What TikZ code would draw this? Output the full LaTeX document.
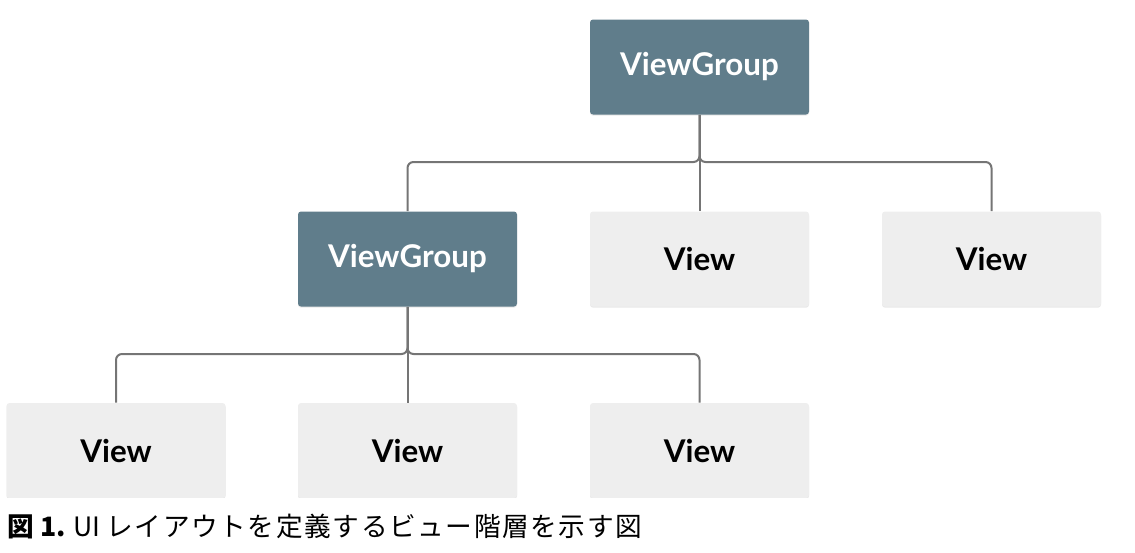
\documentclass[tikz,border=0pt]{standalone}
\usepackage{fontspec}
\usepackage{tikz}
\usetikzlibrary{shadows}
\newfontfamily\lblfont{Lato}
\newfontfamily\capfont{Noto Sans CJK JP}
\newfontfamily\capwide{Noto Sans CJK JP}[LetterSpace=6]
\definecolor{groupblue}{RGB}{96,125,139}
\definecolor{viewgray}{RGB}{238,238,238}
\definecolor{linegray}{RGB}{117,117,117}
\tikzset{
  box/.style={rectangle, rounded corners=2.25pt, minimum width=164.25pt, minimum height=71.25pt, inner sep=0pt,
    font=\lblfont\bfseries\fontsize{23.5}{27}\selectfont, drop shadow={opacity=0.18, shadow xshift=0pt, shadow yshift=-0.9pt}},
  groupbox/.style={box, fill=groupblue, text=white},
  viewbox/.style={box, fill=viewgray, text=black},
  link/.style={draw=linegray, line width=1.5pt, rounded corners=4.5pt}
}
\begin{document}
\begin{tikzpicture}[x=0.75pt,y=0.75pt,yscale=-1,xscale=1]
\useasboundingbox (0,0) rectangle (1135,553);
% Top ViewGroup
\node[groupbox] (root) at (699.5,67) {ViewGroup};
% Second row
\node[groupbox] (group) at (407.5,259) {ViewGroup};
\node[viewbox] (viewa) at (699.5,259) {View};
\node[viewbox] (viewb) at (991.5,259) {View};
% Third row
\node[viewbox] (viewc) at (116,450.5) {View};
\node[viewbox] (viewd) at (407.5,450.5) {View};
\node[viewbox] (viewe) at (699.5,450.5) {View};
% Fork points
\coordinate (forka) at (699.5,162);
\coordinate (forkb) at (407.5,354);
% Connectors from top ViewGroup
\draw[link] (root.south) -- (viewa.north);
\draw[link] (group.north) |- (forka) -- (root.south);
\draw[link] (viewb.north) |- (forka) -- (root.south);
% Connectors from second ViewGroup
\draw[link] (group.south) -- (viewd.north);
\draw[link] (viewc.north) |- (forkb) -- (group.south);
\draw[link] (viewe.north) |- (forkb) -- (group.south);
% Caption
\fill[white] (0,498) rectangle (1135,553);
\node[anchor=base west, inner sep=0pt, font=\capfont\fontsize{20}{24}\selectfont] (caption) at (7,536)
  {{\bfseries 図 1.} UI {\capwide レイアウトを定義するビュー階層を示す図}};
\end{tikzpicture}
\end{document}
